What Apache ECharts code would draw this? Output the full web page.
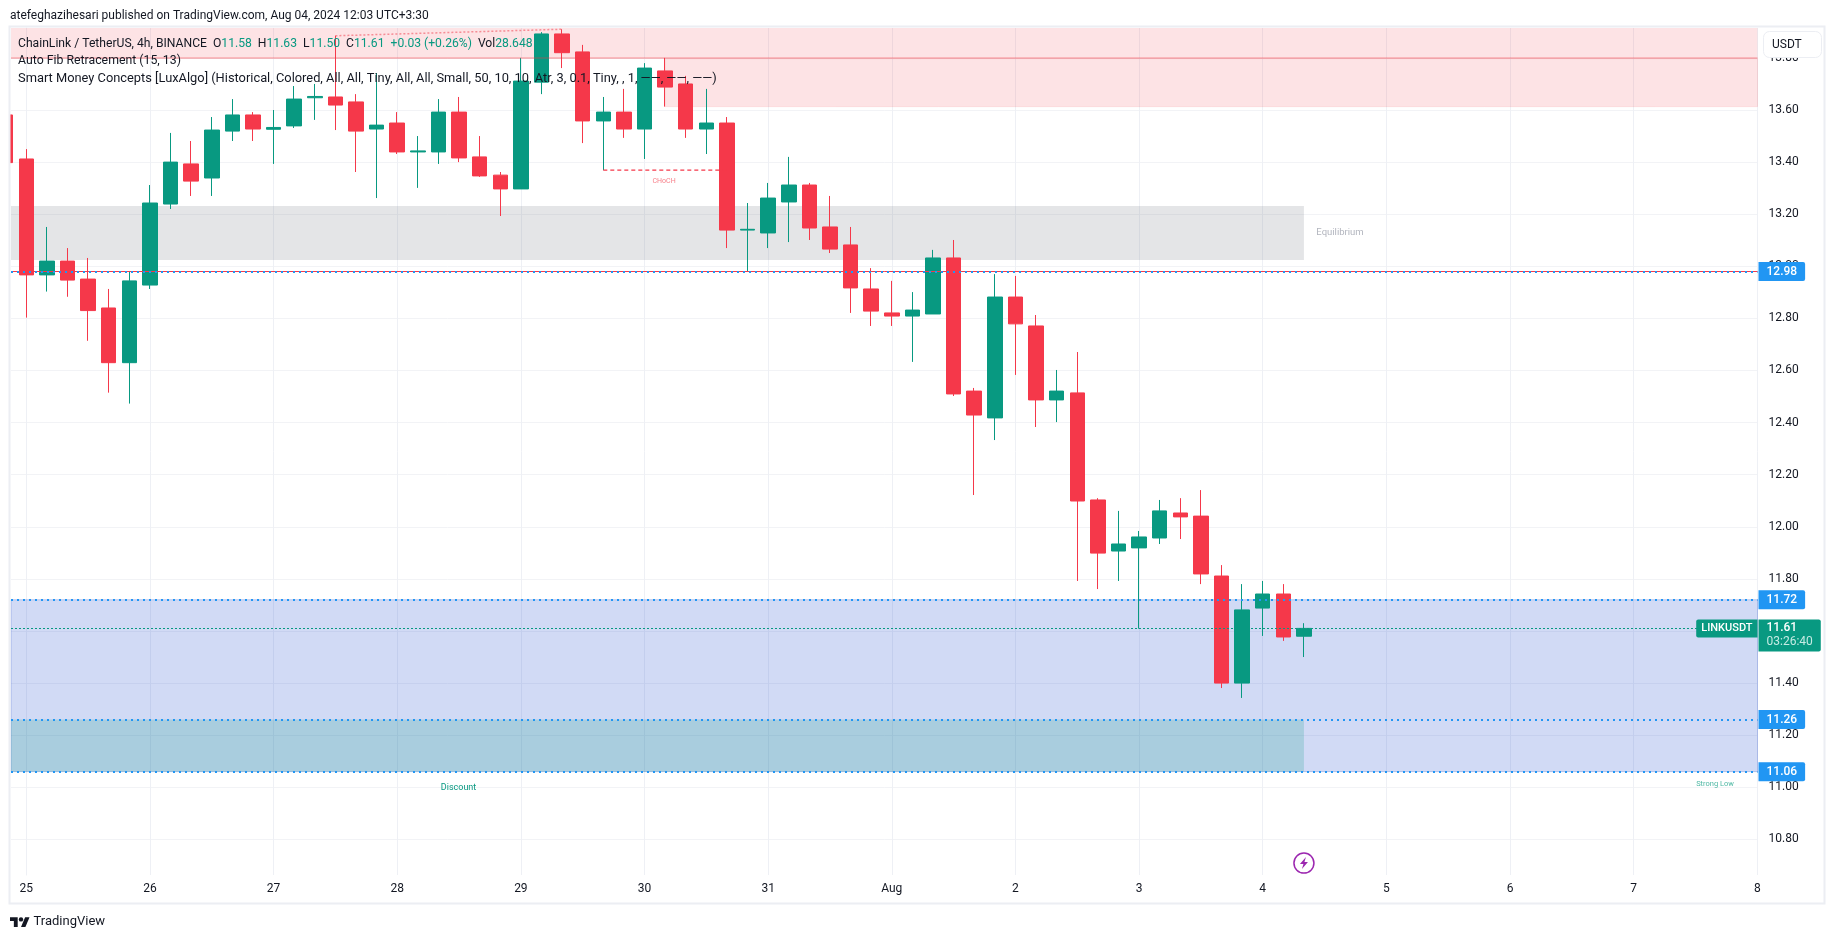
<!DOCTYPE html>
<html>
<head>
<meta charset="utf-8">
<title>LINKUSDT 4h</title>
<script src="https://cdn.jsdelivr.net/npm/echarts@6/dist/echarts.min.js"></script>
<style>
  html, body { margin: 0; padding: 0; background: #fff; }
  #chart { width: 1835px; height: 939px; }
</style>
</head>
<body>
<div id="chart"></div>
<script>
// bar time, hours after Jul 25 00:00
var barHours = [-4, 0, 4, 8, 12, 16, 20, 24, 28, 32, 36, 40, 44, 48, 52, 56, 60, 64, 68, 72, 76, 80, 84, 88, 92, 96, 100, 104, 108, 112, 116, 120, 124, 128, 132, 136, 140, 144, 148, 152, 156, 160, 164, 168, 172, 176, 180, 184, 188, 192, 196, 200, 204, 208, 212, 216, 220, 224, 228, 232, 236, 240, 244, 248];
var opens = [13.581, 13.412, 12.967, 13.020, 12.951, 12.840, 12.630, 12.928, 13.239, 13.393, 13.339, 13.519, 13.581, 13.526, 13.539, 13.647, 13.650, 13.631, 13.527, 13.550, 13.439, 13.439, 13.592, 13.420, 13.350, 13.297, 13.707, 13.892, 13.823, 13.558, 13.592, 13.527, 13.750, 13.700, 13.527, 13.550, 13.139, 13.128, 13.247, 13.312, 13.151, 13.082, 12.913, 12.821, 12.809, 12.817, 13.032, 12.521, 12.418, 12.882, 12.771, 12.487, 12.514, 12.103, 11.907, 11.919, 11.957, 12.053, 12.041, 11.811, 11.400, 11.688, 11.742, 11.58];
var closes = [13.398, 12.967, 13.020, 12.947, 12.830, 12.630, 12.944, 13.243, 13.400, 13.327, 13.523, 13.581, 13.527, 13.533, 13.642, 13.652, 13.619, 13.519, 13.542, 13.439, 13.443, 13.592, 13.416, 13.347, 13.297, 13.711, 13.892, 13.820, 13.558, 13.592, 13.527, 13.761, 13.688, 13.527, 13.550, 13.139, 13.142, 13.262, 13.312, 13.147, 13.066, 12.917, 12.828, 12.809, 12.832, 13.032, 12.510, 12.429, 12.882, 12.779, 12.487, 12.521, 12.099, 11.899, 11.934, 11.961, 12.061, 12.038, 11.819, 11.400, 11.681, 11.742, 11.577, 11.61];
var lows = [13.398, 12.803, 12.903, 12.883, 12.714, 12.515, 12.473, 12.913, 13.220, 13.270, 13.270, 13.481, 13.481, 13.393, 13.531, 13.562, 13.523, 13.362, 13.262, 13.431, 13.301, 13.393, 13.400, 13.343, 13.193, 13.297, 13.661, 13.761, 13.473, 13.369, 13.493, 13.412, 13.613, 13.493, 13.431, 13.070, 12.982, 13.070, 13.093, 13.101, 13.051, 12.821, 12.771, 12.771, 12.633, 12.817, 12.502, 12.122, 12.333, 12.583, 12.383, 12.402, 11.792, 11.761, 11.792, 11.609, 11.934, 11.953, 11.780, 11.381, 11.343, 11.581, 11.562, 11.50];
var highs = [13.581, 13.450, 13.151, 13.070, 13.032, 12.913, 12.982, 13.312, 13.512, 13.481, 13.573, 13.642, 13.592, 13.600, 13.692, 13.700, 13.885, 13.661, 13.742, 13.592, 13.500, 13.642, 13.650, 13.500, 13.362, 13.800, 13.899, 13.910, 13.850, 13.650, 13.681, 13.780, 13.800, 13.731, 13.681, 13.573, 13.243, 13.320, 13.420, 13.320, 13.270, 13.151, 12.993, 12.944, 12.901, 13.063, 13.101, 12.533, 12.970, 12.963, 12.813, 12.602, 12.671, 12.110, 12.061, 11.984, 12.103, 12.110, 12.141, 11.853, 11.780, 11.792, 11.780, 11.63];

// axis
var dayHours = [0, 24, 48, 72, 96, 120, 144, 168, 192, 216, 240, 264, 288, 312, 336];
var dayLabels = ['25', '26', '27', '28', '29', '30', '31', 'Aug', '2', '3', '4', '5', '6', '7', '8'];
var priceTicks = [10.8, 11.0, 11.2, 11.4, 11.6, 11.8, 12.0, 12.2, 12.4, 12.6, 12.8, 13.0, 13.2, 13.4, 13.6, 13.8];
var xMin = -2.97, xMax = 336.04, yMin = 10.6633, yMax = 13.9148;

// horizontal levels
var levelsBlue = [12.98, 11.72, 11.26, 11.06];
var lastPrice = 11.61;
var redLevel = 12.978;

// zones: [from hour, to hour, top, bottom]
var zonePremiumTop = [xMin, xMax, yMax, 13.797];
var zonePremiumLow = [124, xMax, 13.797, 13.613];
var zoneEquilibrium = [xMin, 248, 13.2315, 13.024];
var zoneBlue = [xMin, xMax, 11.72, 11.06];
var zoneDiscount = [xMin, 248, 11.26, 11.06];

// drawn lines
var trendLine = [[60, 13.885], [104, 13.910]];
var chochLine = [[112, 13.369], [136, 13.369]];

var candles = barHours.map(function (h, i) {
  return [h, opens[i], closes[i], lows[i], highs[i]];
});

var GREEN = '#089981', RED = '#f5384a', BLUE = '#2196f3', TEXT = '#131722';
var FONT = 'Roboto, "Liberation Sans", sans-serif';

function zone(z, color, border) {
  return [
    { xAxis: z[0], yAxis: z[2], itemStyle: { color: color, borderColor: border || 'transparent', borderWidth: border ? 1 : 0 } },
    { xAxis: z[1], yAxis: z[3] }
  ];
}

function priceLabel(value, text, bg) {
  return {
    coord: [xMax, value],
    symbolSize: 0,
    label: {
      show: true, position: 'right', distance: 1, formatter: text, color: '#fff',
      fontFamily: FONT, fontSize: 12, fontWeight: 500, backgroundColor: bg,
      padding: [4, 8, 3, 8], borderRadius: [0, 2, 2, 0]
    }
  };
}

function note(h, value, text, color, size) {
  return {
    coord: [h, value],
    symbolSize: 0,
    label: { show: true, position: 'inside', formatter: text, color: color, fontFamily: FONT, fontSize: size }
  };
}

var legendLine1 =
  '{d|ChainLink / TetherUS, 4h, BINANCE  O}{g|11.58}{d|  H}{g|11.63}{d|  L}{g|11.50}{d|  C}{g|11.61}{g|  +0.03 (+0.26%)}{d|  Vol}{g|28.648 K}';

var option = {
  animation: false,
  backgroundColor: '#fff',
  grid: { left: 11, top: 28, width: 1746.5, height: 847, show: false },
  xAxis: {
    type: 'value',
    min: xMin,
    max: xMax,
    axisLine: { show: false },
    axisTick: { show: false, customValues: dayHours },
    axisLabel: {
      customValues: dayHours,
      margin: 8,
      color: TEXT,
      fontFamily: FONT,
      fontSize: 12,
      formatter: function (v) {
        return dayLabels[dayHours.indexOf(v)];
      }
    },
    splitLine: { show: true, lineStyle: { color: '#eef0f5', width: 1 } }
  },
  yAxis: {
    type: 'value',
    position: 'right',
    min: yMin,
    max: yMax,
    axisLine: { show: true, lineStyle: { color: '#eef0f5', width: 1 } },
    axisTick: { show: false, customValues: priceTicks },
    axisLabel: {
      customValues: priceTicks,
      margin: 11,
      padding: [2, 0, 0, 0],
      color: TEXT,
      fontFamily: FONT,
      fontSize: 12,
      formatter: function (v) {
        return v.toFixed(2);
      }
    },
    splitLine: { show: true, lineStyle: { color: '#f2f3f6', width: 1 } }
  },
  series: [
    {
      // zones and levels, under the candles
      type: 'line',
      z: 1,
      data: [],
      silent: true,
      markArea: {
        silent: true,
        data: [
          zone(zonePremiumTop, 'rgba(242,54,69,0.14)'),
          zone(zonePremiumLow, 'rgba(242,54,69,0.14)', 'rgba(242,54,69,0.12)'),
          zone(zoneEquilibrium, 'rgba(120,123,134,0.2)'),
          zone(zoneBlue, 'rgba(30,75,205,0.205)', 'rgba(30,75,205,0.25)'),
          zone(zoneDiscount, 'rgba(8,153,129,0.2)')
        ]
      },
      markLine: {
        silent: true,
        symbol: 'none',
        label: { show: false },
        data: [
          { yAxis: 13.797, lineStyle: { color: 'rgba(242,54,69,0.25)', width: 2, type: 'solid' } }
        ]
      }
    },
    {
      type: 'candlestick',
      z: 3,
      barWidth: 15,
      data: candles,
      itemStyle: {
        color: GREEN,
        color0: RED,
        borderColor: GREEN,
        borderColor0: RED,
        borderWidth: 1
      }
    },
    {
      type: 'line',
      z: 2,
      data: trendLine,
      symbol: 'none',
      lineStyle: { color: 'rgba(242,54,69,0.5)', width: 1.5, type: [2, 2] }
    },
    {
      type: 'line',
      z: 4,
      data: chochLine,
      symbol: 'none',
      lineStyle: { color: RED, width: 1.2, type: [4, 3] }
    },
    {
      // price lines and the labels on the axis, over the candles
      type: 'line',
      z: 5,
      data: [],
      silent: true,
      markLine: {
        silent: true,
        symbol: 'none',
        label: { show: false },
        data: [
          { yAxis: redLevel, lineStyle: { color: RED, width: 1, type: 'solid' } },
          { yAxis: lastPrice, lineStyle: { color: GREEN, width: 1, type: [2, 2] } }
        ].concat(levelsBlue.map(function (v) {
          return { yAxis: v, lineStyle: { color: BLUE, width: 2, type: [2, 4] } };
        }))
      },
      markPoint: {
        silent: true,
        symbol: 'circle',
        data: levelsBlue.map(function (v) {
          return priceLabel(v, v.toFixed(2), BLUE);
        }).concat([
          {
            coord: [xMax, lastPrice],
            symbolSize: 0,
            label: {
              show: true, position: 'right', distance: 1, offset: [0, 7], fontFamily: FONT,
              formatter: '{a|' + lastPrice.toFixed(2) + '}\n{b|03:26:40}',
              backgroundColor: GREEN, padding: [2, 8, 2, 8], borderRadius: [0, 2, 2, 0],
              rich: {
                a: { color: '#fff', fontSize: 12, fontWeight: 500, lineHeight: 14, fontFamily: FONT },
                b: { color: '#c5ebe3', fontSize: 12, lineHeight: 14, fontFamily: FONT }
              }
            }
          },
          {
            coord: [xMax, lastPrice],
            symbolSize: 0,
            label: {
              show: true, position: 'left', distance: 0, formatter: 'LINKUSDT', color: '#fff',
              fontFamily: FONT, fontSize: 11, fontWeight: 500, backgroundColor: GREEN,
              padding: [4, 5, 3, 5], borderRadius: [2, 0, 0, 2]
            }
          },
          note(255, 13.128, 'Equilibrium', '#b2b5be', 9.5),
          note(83.9, 10.997, 'Discount', GREEN, 9),
          note(327.8, 11.012, 'Strong Low', '#4fb8a4', 7.5),
          note(123.8, 13.325, 'CHoCH', 'rgba(242,54,69,0.65)', 7),
          {
            coord: [248, 10.709],
            symbolSize: 20,
            itemStyle: { color: '#fff', borderColor: '#9c27b0', borderWidth: 1.5 }
          },
          {
            coord: [248, 10.709],
            symbol: 'path://M7 0L1 7H4.5L3 12L9 5H5.5Z',
            symbolSize: [8, 12],
            itemStyle: { color: '#9c27b0' }
          }
        ])
      }
    }
  ],
  graphic: [
    {
      // hides the part of the first bar that sticks out left of the pane
      type: 'rect', z: 85, silent: true,
      shape: { x: 0, y: 26, width: 10, height: 878 },
      style: { fill: '#fff' }
    },
    {
      type: 'text', x: 10, y: 10, z: 100,
      style: { text: 'atefeghazihesari published on TradingView.com, Aug 04, 2024 12:03 UTC+3:30', fill: TEXT, font: '12px ' + FONT }
    },
    {
      type: 'rect', z: 90, silent: true,
      shape: { x: 9.5, y: 26.5, width: 1815, height: 877 },
      style: { fill: 'none', stroke: '#eceef3', lineWidth: 2 }
    },
    {
      type: 'rect', z: 100,
      shape: { x: 1763.5, y: 31.5, width: 58, height: 26, r: 6 },
      style: { fill: '#fff', stroke: '#eceef3', lineWidth: 1 }
    },
    {
      type: 'text', z: 101, x: 1772, y: 39,
      style: { text: 'USDT', fill: TEXT, font: '12px ' + FONT }
    },
    {
      type: 'text', z: 100, x: 18, y: 38,
      style: {
        text: legendLine1,
        rich: {
          d: { fill: TEXT, font: '12.15px ' + FONT },
          g: { fill: GREEN, font: '12.15px ' + FONT }
        }
      }
    },
    {
      type: 'text', z: 100, x: 18, y: 55,
      style: { text: 'Auto Fib Retracement (15, 13)', fill: TEXT, font: '12.3px ' + FONT }
    },
    {
      type: 'text', z: 100, x: 18, y: 72,
      style: {
        text: 'Smart Money Concepts [LuxAlgo] (Historical, Colored, All, All, Tiny, All, All, Small, 50, 10, 10, Atr, 3, 0.1, Tiny, , 1, ——, ——, ——)',
        fill: TEXT, font: '12.85px ' + FONT
      }
    },
    {
      type: 'polygon', z: 100, x: 10, y: 915, scaleX: 0.55, scaleY: 0.55,
      shape: { points: [[0, 4], [14, 4], [14, 22], [7, 22], [7, 11], [0, 11]] },
      style: { fill: TEXT }
    },
    {
      type: 'polygon', z: 100, x: 10, y: 915, scaleX: 0.55, scaleY: 0.55,
      shape: { points: [[20, 22], [27.5, 4], [35.5, 4], [28, 22]] },
      style: { fill: TEXT }
    },
    {
      type: 'circle', z: 100, x: 10, y: 915, scaleX: 0.55, scaleY: 0.55,
      shape: { cx: 20, cy: 8, r: 4 },
      style: { fill: TEXT }
    },
    {
      type: 'text', z: 100, x: 33.5, y: 915,
      style: { text: 'TradingView', fill: TEXT, font: '13px ' + FONT }
    }
  ]
};

var myChart = echarts.init(document.getElementById('chart'));
myChart.setOption(option);
</script>
</body>
</html>
